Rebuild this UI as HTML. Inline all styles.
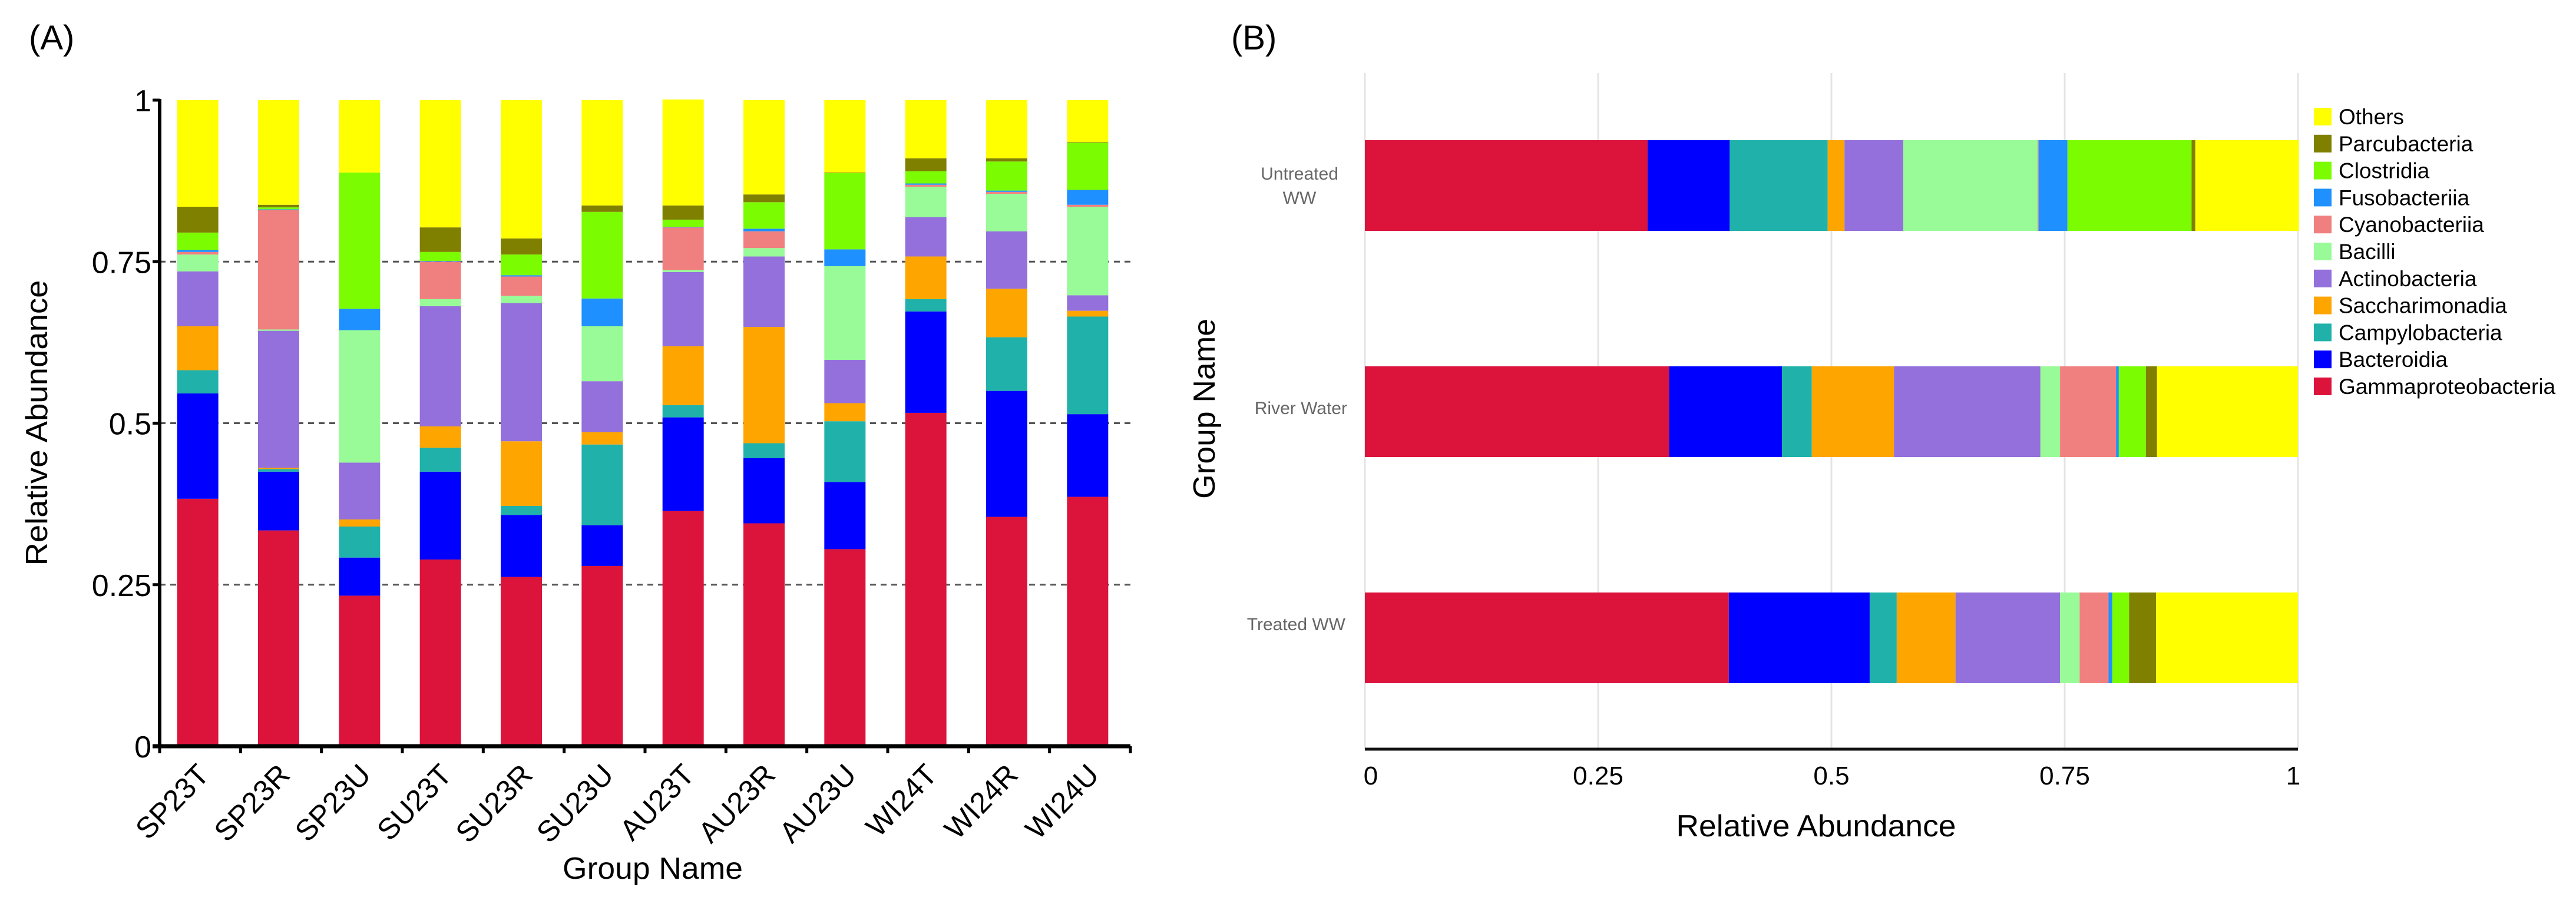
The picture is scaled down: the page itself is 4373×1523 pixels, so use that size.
<!DOCTYPE html>
<html><head><meta charset="utf-8"><style>
html,body{margin:0;padding:0;background:#fff;}
svg{display:block;font-family:"Liberation Sans",sans-serif;}
</style></head><body>
<svg id="fig" width="4373" height="1523" viewBox="0 0 4373 1523">
<g id="chartA"></g>
<g id="chartB"></g>
</svg>
<script>
// ---------- Panel A data ----------
const groupsA = ["SP23T","SP23R","SP23U","SU23T","SU23R","SU23U","AU23T","AU23R","AU23U","WI24T","WI24R","WI24U"];
const gammaA   = [0.383,0.334,0.233,0.289,0.262,0.279,0.364,0.345,0.305,0.516,0.355,0.386];
const bactA    = [0.163,0.091,0.059,0.136,0.096,0.063,0.145,0.101,0.104,0.157,0.195,0.128];
const campyA   = [0.036,0.004,0.048,0.037,0.014,0.125,0.019,0.023,0.094,0.019,0.083,0.151];
const sacchA   = [0.068,0.002,0.011,0.033,0.100,0.019,0.091,0.180,0.028,0.066,0.075,0.009];
const actinoA  = [0.085,0.212,0.088,0.186,0.214,0.079,0.115,0.109,0.067,0.061,0.089,0.024];
const bacilliA = [0.026,0.002,0.205,0.011,0.011,0.085,0.003,0.013,0.145,0.047,0.058,0.137];
const cyanoA   = [0.004,0.185,0.000,0.058,0.030,0.000,0.066,0.026,0.000,0.003,0.003,0.003];
const fusoA    = [0.003,0.001,0.033,0.001,0.002,0.043,0.001,0.004,0.026,0.002,0.002,0.023];
const clostA   = [0.027,0.003,0.211,0.014,0.032,0.134,0.011,0.041,0.118,0.019,0.045,0.073];
const parcuA   = [0.040,0.004,0.000,0.038,0.025,0.010,0.022,0.012,0.001,0.020,0.005,0.001];
const othersA  = [0.165,0.162,0.112,0.197,0.214,0.163,0.164,0.146,0.112,0.090,0.090,0.065];
const yTicksA = [0,0.25,0.5,0.75,1];
const yTickLabelsA = ["0","0.25","0.5","0.75","1"];

// ---------- Panel B data ----------
const groupsB = ["Untreated WW","River Water","Treated WW"];
const gammaB   = [0.303,0.326,0.390];
const bactB    = [0.088,0.121,0.151];
const campyB   = [0.105,0.032,0.029];
const sacchB   = [0.018,0.088,0.063];
const actinoB  = [0.063,0.157,0.112];
const bacilliB = [0.144,0.021,0.021];
const cyanoB   = [0.001,0.060,0.031];
const fusoB    = [0.031,0.003,0.004];
const clostB   = [0.133,0.029,0.018];
const parcuB   = [0.004,0.012,0.029];
const othersB  = [0.111,0.151,0.152];
const xTicksB = [0,0.25,0.5,0.75,1];
const xTickLabelsB = ["0","0.25","0.5","0.75","1"];

const taxa = ["Gammaproteobacteria","Bacteroidia","Campylobacteria","Saccharimonadia","Actinobacteria","Bacilli","Cyanobacteriia","Fusobacteriia","Clostridia","Parcubacteria","Others"];
const colors = ["#DC143C","#0000FF","#20B2AA","#FFA500","#9370DB","#98FB98","#F08080","#1E90FF","#7CFC00","#808000","#FFFF00"];
const seriesA = [gammaA,bactA,campyA,sacchA,actinoA,bacilliA,cyanoA,fusoA,clostA,parcuA,othersA];
const seriesB = [gammaB,bactB,campyB,sacchB,actinoB,bacilliB,cyanoB,fusoB,clostB,parcuB,othersB];

const NS="http://www.w3.org/2000/svg";
function mk(parent,tag,attrs,text){const e=document.createElementNS(NS,tag);for(const k in attrs)e.setAttribute(k,attrs[k]);if(text!==undefined)e.textContent=text;parent.appendChild(e);return e;}
function slug(s){return s.toLowerCase().replace(/[^a-z0-9]+/g,'-');}

// ---------- Panel A ----------
const A=document.getElementById('chartA');
const aL=271, aR=1919, aT=170, aB=1267;
const yA=v=>aB-(aB-aT)*v;
const bandA=(aR-aL)/groupsA.length;
const xA=i=>aL+bandA*(i+0.5)-4;
const barWA=70;
let t=mk(A,'text',{x:49,y:84,'font-size':58},'(A)');


yTicksA.forEach((v,i)=>{
  if(v>0&&v<1){const g=mk(A,'line',{x1:aL,x2:aR,y1:yA(v),y2:yA(v),stroke:'#555','stroke-width':3,'stroke-dasharray':'10,8'});
  
  }
});
groupsA.forEach((g,i)=>{
  let cum=0;
  seriesA.forEach((s,k)=>{
    const r=mk(A,'rect',{x:xA(i)-barWA/2,y:yA(cum+s[i]),width:barWA,height:Math.max(0,yA(cum)-yA(cum+s[i])),fill:colors[k]});
    
    
    cum+=s[i];
  });
});
let ax=mk(A,'line',{x1:aL,x2:aL,y1:aT-2,y2:aB+2,stroke:'#000','stroke-width':6});


ax=mk(A,'line',{x1:aL-12,x2:aR,y1:aB,y2:aB,stroke:'#000','stroke-width':7});


yTicksA.forEach((v,i)=>{
  const tk=mk(A,'line',{x1:aL-12,x2:aL,y1:yA(v),y2:yA(v),stroke:'#000','stroke-width':5});
  
  
  const tl=mk(A,'text',{x:aL-14,y:yA(v)+19,'font-size':52,'text-anchor':'end'},yTickLabelsA[i]);
  
  
});
for(let i=0;i<=groupsA.length;i++){
  const tx=aL+bandA*i;
  const tk=mk(A,'line',{x1:tx,x2:tx,y1:aB,y2:aB+12,stroke:'#000','stroke-width':5});
  
  
}
groupsA.forEach((g,i)=>{
  const x=xA(i)+22, y=1318;
  const tl=mk(A,'text',{x:x,y:y,'font-size':50,'text-anchor':'end',transform:`rotate(-46 ${x} ${y})`},g);
  
  
});
t=mk(A,'text',{x:1108,y:1492,'font-size':52,'text-anchor':'middle',textLength:306,lengthAdjust:'spacingAndGlyphs'},'Group Name');


t=mk(A,'text',{x:80,y:718,'font-size':52,'text-anchor':'middle',transform:'rotate(-90 80 718)',textLength:485,lengthAdjust:'spacingAndGlyphs'},'Relative Abundance');



// ---------- Panel B ----------
const B=document.getElementById('chartB');
const bL=2317, bR=3901, bT=124, bB=1272;
const xB=v=>bL+(bR-bL)*v;
const yCenters=[315,699,1083];
const barHB=154;
t=mk(B,'text',{x:2090,y:84,'font-size':58},'(B)');


xTicksB.forEach((v,i)=>{
  const g=mk(B,'line',{x1:xB(v),x2:xB(v),y1:bT,y2:bB,stroke:'#e4e4e4','stroke-width':3});
  
  
  const tl=mk(B,'text',{x:xB(v)+(i==0?10:i==4?-8:0),y:1332,'font-size':44,'text-anchor':'middle'},xTickLabelsB[i]);
  
  
});
groupsB.forEach((g,i)=>{
  let cum=0;
  seriesB.forEach((s,k)=>{
    const r=mk(B,'rect',{x:xB(cum),y:yCenters[i]-barHB/2,width:Math.max(0,xB(cum+s[i])-xB(cum)),height:barHB,fill:colors[k]});
    
    
    cum+=s[i];
  });
});
ax=mk(B,'line',{x1:bL,x2:bR,y1:bB,y2:bB,stroke:'#111','stroke-width':5});


t=mk(B,'text',{x:2206,y:305,'font-size':30,fill:'#666','text-anchor':'middle'},'Untreated');


t=mk(B,'text',{x:2206,y:346,'font-size':30,fill:'#666','text-anchor':'middle'},'WW');


t=mk(B,'text',{x:2287,y:703,'font-size':30,fill:'#666','text-anchor':'end'},'River Water');


t=mk(B,'text',{x:2284,y:1070,'font-size':30,fill:'#666','text-anchor':'end'},'Treated WW');


t=mk(B,'text',{x:2062,y:694,'font-size':52,'text-anchor':'middle',transform:'rotate(-90 2062 694)',textLength:306,lengthAdjust:'spacingAndGlyphs'},'Group Name');


t=mk(B,'text',{x:3083,y:1420,'font-size':52,'text-anchor':'middle',textLength:475,lengthAdjust:'spacingAndGlyphs'},'Relative Abundance');


const legend=mk(B,'g',{});


const legOrder=taxa.slice().reverse();
const legColors=colors.slice().reverse();
legOrder.forEach((name,j)=>{
  const y=198+j*45.8;
  const g=mk(legend,'g',{});
  
  
  mk(g,'rect',{x:3928,y:y-15,width:30,height:30,fill:legColors[j]});
  mk(g,'text',{x:3970,y:y+13,'font-size':37},name);
});
</script>
</body></html>
